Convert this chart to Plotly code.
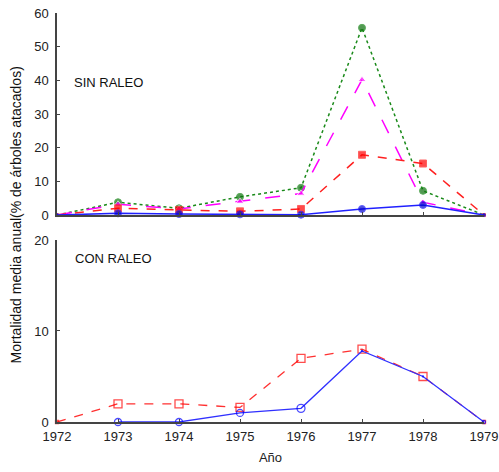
import plotly.graph_objects as go

years = [1972, 1973, 1974, 1975, 1976, 1977, 1978, 1979]

# SIN RALEO (top panel)
sin_green = [0, 3.8, 2.0, 5.4, 8.1, 55.6, 7.2, 0]
sin_magenta = [0, 3.2, 1.8, 4.0, 6.4, 40.2, 3.8, 0]
sin_red = [0, 2.0, 1.5, 1.1, 1.8, 17.9, 15.3, 0]
sin_blue = [0, 0.5, 0.3, 0.2, 0.1, 1.8, 3.0, 0]

# CON RALEO (bottom panel)
con_years_red = [1972, 1973, 1974, 1975, 1976, 1977, 1978, 1979]
con_red = [0, 2.0, 2.0, 1.6, 7.0, 8.0, 5.0, 0]
con_years_blue = [1973, 1974, 1975, 1976, 1977, 1978, 1979]
con_blue = [0, 0, 1.0, 1.5, 7.8, 5.0, 0]

top_ticks = [0, 10, 20, 30, 40, 50, 60]
bot_ticks = [0, 10, 20]

font = "Liberation Sans, Arial, sans-serif"

fig = go.Figure()

end_sizes = [3, 7, 7, 7, 7, 7, 7, 3]

fig.add_trace(go.Scatter(x=years, y=sin_green, mode="lines+markers",
                         line=dict(color="#1a8a1a", width=1.5, dash="dot"),
                         marker=dict(symbol="circle", size=end_sizes, color="#0a6e0a"),
                         xaxis="x", yaxis="y", cliponaxis=False))
fig.add_trace(go.Scatter(x=years, y=sin_magenta, mode="lines+markers",
                         line=dict(color="#ff00ff", width=1.5, dash="longdash"),
                         marker=dict(symbol="triangle-up", size=end_sizes, color="#ff00ff"),
                         xaxis="x", yaxis="y", cliponaxis=False))
fig.add_trace(go.Scatter(x=years, y=sin_red, mode="lines+markers",
                         line=dict(color="#ff2020", width=1.5, dash="dash"),
                         marker=dict(symbol="square", size=end_sizes, color="#ff0000"),
                         xaxis="x", yaxis="y", cliponaxis=False))
fig.add_trace(go.Scatter(x=years, y=sin_blue, mode="lines+markers",
                         line=dict(color="#2020ff", width=1.5),
                         marker=dict(symbol="circle", size=end_sizes, color="#0000cc"),
                         xaxis="x", yaxis="y", cliponaxis=False))

fig.add_trace(go.Scatter(x=con_years_red, y=con_red, mode="lines+markers",
                         line=dict(color="#ff3030", width=1.3, dash="dash"),
                         marker=dict(symbol="square-open", size=[3, 8, 8, 8, 8, 8, 8, 3], color="#ff0000",
                                     line=dict(width=1.3)),
                         xaxis="x2", yaxis="y2", cliponaxis=False))
fig.add_trace(go.Scatter(x=con_years_blue, y=con_blue, mode="lines+markers",
                         line=dict(color="#3030ff", width=1.3),
                         marker=dict(symbol="circle-open", size=[7, 7, 7, 8, 1, 1, 3], color="#0000ff",
                                     line=dict(width=1.3)),
                         xaxis="x2", yaxis="y2", cliponaxis=False))

axis_common = dict(showgrid=False, zeroline=False, showline=True, linecolor="#444444",
                   linewidth=1.5, ticks="inside", ticklen=3, tickcolor="#444444",
                   tickfont=dict(family=font, size=13, color="#222222"))

fig.update_layout(
    width=499, height=472,
    margin=dict(l=57, r=15, t=13, b=50, autoexpand=False),
    paper_bgcolor="white", plot_bgcolor="white",
    showlegend=False,
    xaxis=dict(domain=[0, 1], range=[1972, 1979], tickvals=years, showticklabels=False,
               anchor="y", **axis_common),
    yaxis=dict(domain=[0.506, 1], range=[0, 60], tickvals=top_ticks, anchor="x",
               ticklabelstandoff=4, **axis_common),
    xaxis2=dict(domain=[0, 1], range=[1972, 1979], tickvals=years, anchor="y2",
                title=dict(text="Año", font=dict(family=font, size=13, color="#222222"), standoff=10),
                ticklabelstandoff=2, **axis_common),
    yaxis2=dict(domain=[0, 0.445], range=[0, 20], tickvals=bot_ticks, anchor="x2",
                ticklabelstandoff=4, **axis_common),
    annotations=[
        dict(text="SIN RALEO", xref="paper", yref="paper", x=0.035, y=0.829,
             xanchor="left", yanchor="middle", showarrow=False,
             font=dict(family=font, size=13, color="#111111")),
        dict(text="CON RALEO", xref="paper", yref="paper", x=0.037, y=0.40,
             xanchor="left", yanchor="middle", showarrow=False,
             font=dict(family=font, size=13, color="#111111")),
        dict(text="Mortalidad media anual(% de árboles atacados)", xref="paper", yref="paper",
             x=-0.096, y=0.505, xanchor="center", yanchor="middle", textangle=-90,
             showarrow=False, font=dict(family=font, size=14, color="#111111")),
    ],
)

fig.write_html("out.html", config={"displayModeBar": False},
               post_script="document.body.style.margin='0';document.body.style.overflow='hidden';")
